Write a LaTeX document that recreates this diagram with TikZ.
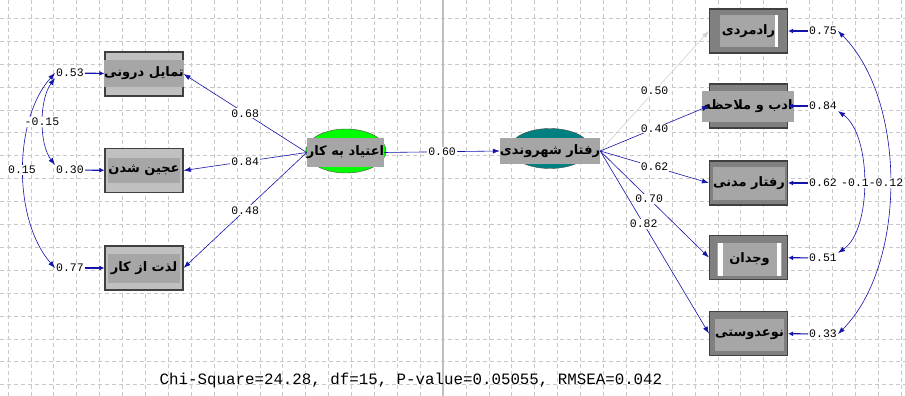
\documentclass[tikz,border=0pt]{standalone}
\usepackage{fontspec}
\setmonofont{Liberation Mono}
\newfontfamily\farsifont[Script=Arabic]{DejaVu Sans}
\TeXXeTstate=1
\usetikzlibrary{arrows.meta, shapes.geometric}

\definecolor{pathblue}{RGB}{20,20,170}
\definecolor{boxlight}{RGB}{192,192,192}
\definecolor{boxdark}{RGB}{128,128,128}
\definecolor{txtgray}{RGB}{166,166,166}
\definecolor{gridgray}{RGB}{200,200,200}
\definecolor{latgreen}{RGB}{0,255,0}
\definecolor{latteal}{RGB}{0,128,128}

\newcommand{\fa}[1]{{\farsifont\bfseries\beginR #1\endR}}

\begin{document}
\begin{tikzpicture}[x=1pt, y=-1pt, lbox/.style={draw=black!75, fill=boxlight, line width=1.2pt, minimum width=78pt, minimum height=44pt, inner sep=0pt}, rbox/.style={lbox, fill=boxdark}, txt/.style={fill=txtgray, inner sep=0pt, font=\fontsize{13}{13}\selectfont}, lat/.style={draw=black!70, ellipse, minimum width=80pt, minimum height=44pt, inner sep=0pt}, p/.style={-{Latex[length=7pt,width=5pt]}, pathblue, line width=0.6pt}, e/.style={-{Latex[length=5pt,width=5pt]}, pathblue, line width=1.2pt}, c/.style={{Latex[length=7pt,width=5pt]}-{Latex[length=7pt,width=5pt]}, pathblue, line width=0.6pt}, num/.style={fill=white, text=black, inner sep=1pt, font=\ttfamily\fontsize{11.5}{11.5}\selectfont}, gridline/.style={gridgray, line width=0.8pt, dash pattern=on 4pt off 3pt}]
            \useasboundingbox (0,0) rectangle (905,396);
            \fill[white] (0,0) rectangle (905,396);
            % grid
            \foreach \gx in {0,...,39}
                \draw[gridline] ({8+22.9*\gx},0) -- ({8+22.9*\gx},396);
            \foreach \gy in {0,...,16}
                \draw[gridline] (0,{18.3+22.9*\gy}) -- (905,{18.3+22.9*\gy});
            \draw[black!25, line width=1.5pt] (443,0) -- (443,396);

            % observed, left
            \node[lbox] (tamayol) at (144,74) {};
            \node[txt, minimum width=78pt, minimum height=27pt] at (144,73.5) {\fa{تمایل درونی}};
            \node[lbox] (ajin) at (144,170.5) {};
            \node[txt, minimum width=70pt, minimum height=25pt] at (144,170.5) {\fa{عجین شدن}};
            \node[lbox] (lezzat) at (144,268) {};
            \node[txt, minimum width=72pt, minimum height=29pt] at (144,268.5) {\fa{لذت از کار}};

            % observed, right
            \node[rbox] (radmardi) at (748.5,31) {};
            \node[txt, minimum width=57pt, minimum height=32pt] at (748.5,31) {\fa{رادمردی}};
            \fill[white] (775,15) rectangle (777.5,47);
            \node[rbox] (adab) at (748.5,106) {};
            \node[txt, minimum width=92pt, minimum height=31pt] at (748,106.5) {\fa{ادب و ملاحظه}};
            \node[rbox] (madani) at (748.5,183) {};
            \node[txt, minimum width=68pt, minimum height=33pt] at (749,183.5) {\fa{رفتار مدنی}};
            \node[rbox] (vojdan) at (748.5,257.5) {};
            \node[txt, minimum width=65pt, minimum height=33pt] at (749.5,259.5) {\fa{وجدان}};
            \fill[white] (718,243) rectangle (723,276);
            \fill[white] (777,243) rectangle (781,276);
            \node[rbox] (nodusti) at (748.5,333.5) {};
            \node[txt, minimum width=69pt, minimum height=32pt] at (749.5,335) {\fa{نوعدوستی}};

            % latent
            \node[lat, fill=latgreen] (etiad) at (346,151) {};
            \node[txt, minimum width=77pt, minimum height=29pt] (etiadtxt) at (345.5,152.5) {\fa{اعتیاد به کار}};
            \node[lat, fill=latteal, minimum height=40pt] (raftar) at (550,148.5) {};
            \node[txt, minimum width=94pt, minimum height=26pt] (raftartxt) at (550,151) {\fa{رفتار شهروندی}};

            % errors
            \node[num] (e53) at (70,73) {0.53};
            \node[num] (e30) at (70,170) {0.30};
            \node[num] (e77) at (70,268) {0.77};
            \node[num] (e75) at (823,31) {0.75};
            \node[num] (e84) at (823,106) {0.84};
            \node[num] (e62) at (823,183) {0.62};
            \node[num] (e51) at (823,258) {0.51};
            \node[num] (e33) at (823,334) {0.33};

            % edges
            \draw[p] (etiadtxt.west) -- node[num] {0.68} (tamayol.east);
            \draw[p] (etiadtxt.west) -- node[num] {0.84} (ajin.east);
            \draw[p] (etiadtxt.west) -- node[num] {0.48} (lezzat.east);
            \draw[p] (etiadtxt.east) -- node[num] {0.60} (raftartxt.west);
            \draw[p, black!18] (raftartxt.east) -- node[num] {0.50} (radmardi.west);
            \draw[p] (raftartxt.east) -- node[num] {0.40} (adab.west);
            \draw[p] (raftartxt.east) -- node[num] {0.62} (madani.west);
            \draw[p] (raftartxt.east) -- node[num, pos=0.45] {0.70} (vojdan.west);
            \draw[p] (raftartxt.east) -- node[num, pos=0.4] {0.82} (nodusti.west);

            \draw[e] (e53) -- (tamayol);
            \draw[e] (e30) -- (ajin);
            \draw[e] (e77) -- (lezzat);
            \draw[e] (e75) -- (radmardi);
            \draw[e] (e84) -- (adab);
            \draw[e] (e62) -- (madani);
            \draw[e] (e51) -- (vojdan);
            \draw[e] (e33) -- (nodusti);

            % covariances
            \draw[c] (e53.south west) .. controls (39,100) and (39,144) .. (e30.north west);
            \draw[c] (e53.west) .. controls (13,120) and (13,220) .. (e77.west);
            \draw[c] (e84.south east) .. controls (872,135) and (872,230) .. (e51.north east);
            \draw[c] (e75.east) .. controls (907,100) and (907,265) .. (e33.east);
            \node[num] at (42,122) {-0.15};
            \node[num] at (22,170) {0.15};
            \node[num] at (855,183) {-0.1};
            \node[num] at (886,183) {-0.12};

            % fit
            \node[font=\ttfamily\fontsize{15.8}{15.8}\selectfont] (fit) at (411,380) {Chi-Square=24.28, df=15, P-value=0.05055, RMSEA=0.042};
        \end{tikzpicture}
\end{document}
